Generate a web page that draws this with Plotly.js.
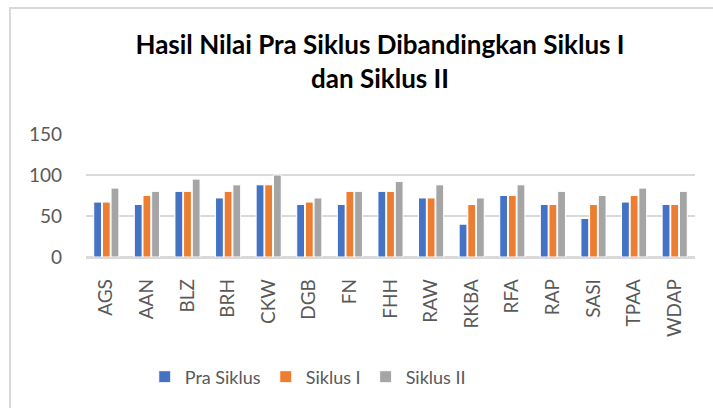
<!DOCTYPE html>
<html>
<head>
<meta charset="utf-8">
<script src="https://cdn.plot.ly/plotly-3.0.1.min.js"></script>
<style>
  html, body { margin: 0; padding: 0; background: #fff; }
  #wrap { position: relative; width: 713px; height: 408px; overflow: hidden; }
  #chart { position: absolute; left: 0; top: 0; width: 713px; height: 408px; }
  .bl { position: absolute; left: 9px; top: 8px; width: 2px; height: 400px; background: #d9d9d9; }
  .bt { position: absolute; left: 9px; top: 7px; width: 704px; height: 2px; background: #d9d9d9; }
</style>
</head>
<body>
<div id="wrap">
  <div id="chart"></div>
  <div class="bl"></div>
  <div class="bt"></div>
</div>
<script>
const categories = ["AGS","AAN","BLZ","BRH","CKW","DGB","FN","FHH","RAW","RKBA","RFA","RAP","SASI","TPAA","WDAP"];
const praSiklus = [67,64,80,72,88,64,64,80,72,40,75,64,47,67,64];
const siklusI   = [67,75,80,80,88,67,80,80,72,64,75,64,64,75,64];
const siklusII  = [84,80,95,88,100,72,80,92,88,72,88,80,75,84,80];
const seriesNames = ["Pra Siklus","Siklus I","Siklus II"];
const yTicks = [0,50,100,150];

const colors = ["#4472C4","#ED7D31","#A5A5A5"];
const font = "Lato, 'Open Sans', sans-serif";

const traces = [praSiklus, siklusI, siklusII].map((vals, i) => ({
  type: "bar",
  x: categories,
  y: vals,
  name: seriesNames[i],
  marker: { color: colors[i], line: { color: "#ffffff", width: 1 } },
  hoverinfo: "x+y+name"
}));

const layout = {
  width: 713,
  height: 408,
  paper_bgcolor: "#ffffff",
  plot_bgcolor: "#ffffff",
  margin: { l: 86, r: 18, t: 134, b: 151 },
  barmode: "group",
  bargap: 0.36,
  bargroupgap: 0.1,
  title: {
    text: "<b>Hasil Nilai Pra Siklus Dibandingkan Siklus I<br>dan Siklus II</b>",
    font: { family: font, size: 26, color: "#000000" },
    x: 0.533, xref: "container", xanchor: "center",
    y: 0.868, yref: "container", yanchor: "middle"
  },
  xaxis: {
    type: "category",
    tickangle: -90,
    tickfont: { family: font, size: 19, color: "#595959" },
    showgrid: false,
    showline: true, linecolor: "#d9d9d9", linewidth: 1.5,
    ticks: "", ticklabelstandoff: 13,
    zeroline: false
  },
  yaxis: {
    range: [0, 150],
    tickvals: yTicks,
    ticktext: yTicks.map(String),
    tickfont: { family: font, size: 19, color: "#595959" },
    showgrid: true, gridcolor: "#d9d9d9", gridwidth: 1.5,
    zeroline: true, zerolinecolor: "#d9d9d9", zerolinewidth: 1.5,
    showline: false, ticks: "", ticklabelstandoff: 23
  },
  showlegend: true,
  legend: {
    orientation: "h",
    xref: "container", yref: "container",
    x: 0.203, xanchor: "left",
    y: 0.076, yanchor: "middle",
    font: { family: font, size: 18, color: "#595959" },
    itemwidth: 30,
    traceorder: "normal"
  }
};

Plotly.newPlot("chart", traces, layout, { displayModeBar: false, staticPlot: true });
</script>
</body>
</html>
